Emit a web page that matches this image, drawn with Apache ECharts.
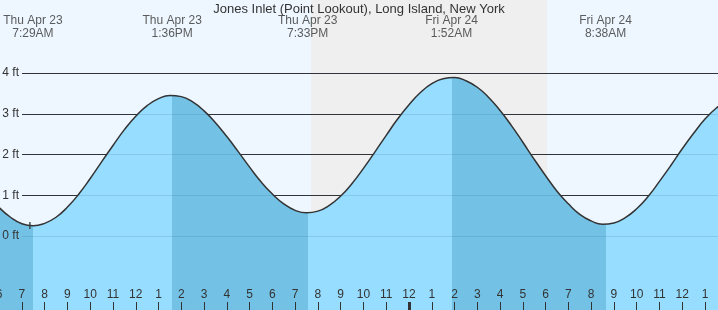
<!DOCTYPE html>
<html>
<head>
<meta charset="utf-8">
<script src="https://cdn.jsdelivr.net/npm/echarts@6/dist/echarts.min.js"></script>
<style>
html,body{margin:0;padding:0;background:#EEF7FF;}
#chart{width:718px;height:310px;}
</style>
</head>
<body>
<div id="chart"></div>
<script>
// ---- data (hours since Thu Apr 23 00:00, feet), read every half hour ----
const tideTimes = [6, 6.5, 7, 7.5, 8, 8.5, 9, 9.5, 10, 10.5, 11, 11.5, 12, 12.5, 13, 13.5, 14, 14.5, 15, 15.5, 16, 16.5, 17, 17.5, 18, 18.5, 19, 19.5, 20, 20.5, 21, 21.5, 22, 22.5, 23, 23.5, 24, 24.5, 25, 25.5, 26, 26.5, 27, 27.5, 28, 28.5, 29, 29.5, 30, 30.5, 31, 31.5, 32, 32.5, 33, 33.5, 34, 34.5, 35, 35.5, 36, 36.5, 37, 37.5, 38];
const tideFeet  = [0.70, 0.46, 0.30, 0.25, 0.31, 0.46, 0.71, 1.03, 1.41, 1.82, 2.22, 2.61, 2.94, 3.20, 3.37, 3.45, 3.42, 3.29, 3.07, 2.78, 2.44, 2.07, 1.69, 1.33, 1.03, 0.79, 0.63, 0.57, 0.61, 0.75, 0.98, 1.29, 1.66, 2.06, 2.47, 2.87, 3.22, 3.52, 3.74, 3.86, 3.89, 3.81, 3.65, 3.40, 3.08, 2.71, 2.30, 1.88, 1.48, 1.10, 0.79, 0.53, 0.37, 0.29, 0.32, 0.45, 0.67, 0.97, 1.34, 1.73, 2.14, 2.52, 2.87, 3.14, 3.33];

const eventTimes  = [7.483, 13.6, 19.55, 25.867, 32.633, 38.67];
const eventDates  = ['Thu Apr 23', 'Thu Apr 23', 'Thu Apr 23', 'Fri Apr 24', 'Fri Apr 24', 'Fri Apr 24'];
const eventClocks = ['7:29AM', '1:36PM', '7:33PM', '1:52AM', '8:38AM', '2:40PM'];

const sunsetTime = 19.70;
const sunriseTime = 30.06;
const nowTime = 7.35;
const nowFeet = 0.26;

const hourTicks = [];
for (let h = 6; h <= 38; h++) hourTicks.push(h);
const hourLabels = hourTicks.map(h => String(h % 12 === 0 ? 12 : h % 12));
const midnightHour = 24;
const footTicks = [0, 1, 2, 3, 4];

const titleText = 'Jones Inlet (Point Lookout), Long Island, New York';

// ---- styles ----
const FONT = 'Liberation Sans, Arial, sans-serif';
const TXT = '#333';
const LIGHT = '#97DDFF';
const DARK = '#73C2E6';

// pixel layout: 0 ft at y=236, 4 ft at y=73
const yZero = 236, yFour = 73, H = 310;
const pxPerFt = (yZero - yFour) / 4;
const pxPerHr = 22.77;
const xMin = 6, xMax = 38;
const leftAt6 = -0.86;

const pieces = [];
const bounds = eventTimes.slice(0, 5);
let prev = null;
bounds.forEach((b, i) => {
  const p = { color: i % 2 === 0 ? DARK : LIGHT };
  if (prev !== null) p.gte = prev;
  p.lt = b;
  pieces.push(p);
  prev = b;
});
pieces.push({ gte: prev, color: bounds.length % 2 === 0 ? DARK : LIGHT });

const labelRowFt = (yZero - 27.5) / pxPerFt;

const footAxisBase = {
  type: 'value', gridIndex: 1, position: 'left',
  min: footTicks[0], max: footTicks[footTicks.length - 1], interval: 1,
  axisLine: { show: false }, axisTick: { show: false }
};

const chart = echarts.init(document.getElementById('chart'), null, { renderer: 'canvas' });
chart.setOption({
  backgroundColor: '#EEF7FF',
  animation: false,
  textStyle: { fontFamily: FONT },
  title: {
    text: titleText, left: 'center', top: -2,
    textStyle: { fontSize: 13, fontWeight: 'normal', color: TXT, fontFamily: FONT }
  },
  grid: [
    { left: leftAt6, width: (xMax - xMin) * pxPerHr, top: 0, bottom: 0, containLabel: false, outerBoundsMode: 'none' },
    { left: 22, right: 0, top: yFour, bottom: H - yZero, containLabel: false, outerBoundsMode: 'none' }
  ],
  xAxis: [
    {
      type: 'value', gridIndex: 0, position: 'bottom', min: xMin, max: xMax, interval: 1,
      axisLine: { show: false, onZero: false },
      splitLine: { show: false },
      axisTick: { show: true, inside: true, length: 8, lineStyle: { color: TXT, width: 1 } },
      axisLabel: {
        show: true, inside: true, margin: 9, fontSize: 12, color: TXT, fontFamily: FONT,
        showMinLabel: true, showMaxLabel: true, hideOverlap: false,
        formatter: v => hourLabels[hourTicks.indexOf(Math.round(v))] || ''
      },
      z: 5
    },
    {
      type: 'category', gridIndex: 0, data: hourTicks.map(String), boundaryGap: false,
      position: 'bottom',
      axisLine: { show: false, onZero: false },
      axisLabel: { show: false },
      splitLine: { show: false },
      axisTick: { show: true, inside: true, length: 8, lineStyle: { color: TXT, width: 3 },
        interval: (i, v) => Number(v) === midnightHour },
      z: 5
    },
    { type: 'value', gridIndex: 1, show: false, min: 0, max: 1, axisLine: { onZero: false } }
  ],
  yAxis: [
    { type: 'value', gridIndex: 0, show: false, min: -(H - yZero) / pxPerFt, max: yZero / pxPerFt },
    Object.assign({}, footAxisBase, {
      axisLabel: { show: false },
      splitLine: { show: true, lineStyle: { color: '#333', width: 1 } },
      z: 1
    }),
    Object.assign({}, footAxisBase, {
      axisLabel: { show: false },
      splitLine: { show: true, lineStyle: { color: 'rgba(30,60,90,0.13)', width: 1 } },
      z: 3
    }),
    Object.assign({}, footAxisBase, {
      splitLine: { show: false },
      axisLabel: { show: true, margin: 3, fontSize: 12, color: TXT, fontFamily: FONT, formatter: '{value} ft' },
      z: 5
    })
  ],
  visualMap: {
    type: 'piecewise', show: false, dimension: 0, seriesIndex: 1, pieces: pieces
  },
  series: [
    {
      type: 'line', xAxisIndex: 0, yAxisIndex: 0, data: [], z: 0, silent: true,
      markArea: {
        silent: true, z: 0,
        itemStyle: { color: '#EFEFEF' },
        data: [[{ xAxis: sunsetTime }, { xAxis: sunriseTime }]]
      }
    },
    {
      type: 'line', xAxisIndex: 0, yAxisIndex: 0, z: 2,
      data: tideTimes.map((t, i) => [t, tideFeet[i]]),
      smooth: 0.5,
      showSymbol: false,
      lineStyle: { color: '#333', width: 1.5 },
      areaStyle: { origin: 'start', opacity: 1 }
    },
    {
      type: 'scatter', xAxisIndex: 0, yAxisIndex: 0, z: 4, silent: true,
      symbol: 'rect', symbolSize: [1.6, 7],
      itemStyle: { color: '#333' },
      data: [[nowTime, nowFeet]]
    },
    {
      type: 'scatter', xAxisIndex: 0, yAxisIndex: 0, z: 6, silent: true,
      symbolSize: 0,
      data: eventTimes.map((t, i) => ({ value: [t, labelRowFt], name: eventDates[i] + '\n' + eventClocks[i] })),
      label: {
        show: true, position: 'inside', formatter: p => p.name,
        fontSize: 12, lineHeight: 13, color: TXT, fontFamily: FONT, align: 'center'
      }
    }
  ]
});
</script>
</body>
</html>
